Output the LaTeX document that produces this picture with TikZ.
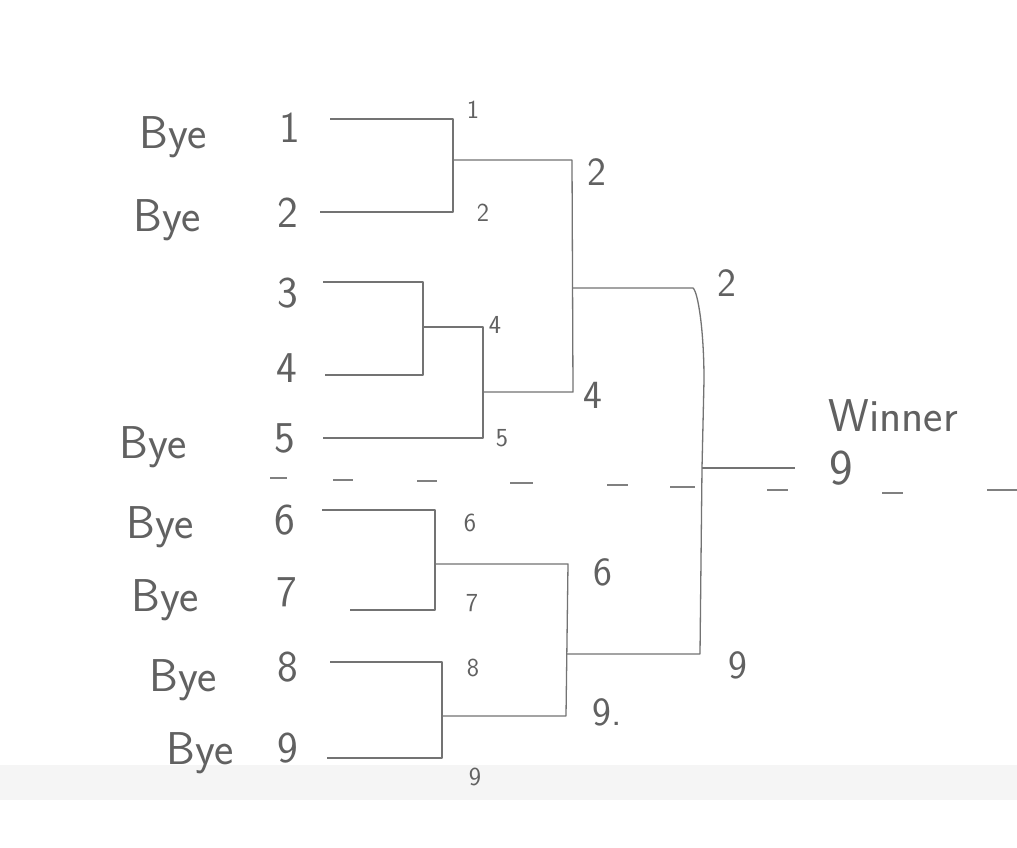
\documentclass[tikz,border=0pt]{standalone}
\usepackage{fontspec}
\begin{document}
\begin{tikzpicture}[x=1pt,y=-1pt,
  br/.style={draw=black!55, line width=1.3pt, line join=round},
  txt/.style={text=black!62, inner sep=0pt, font=\sffamily},
  big/.style={txt, font=\sffamily\fontsize{44}{48}\selectfont},
  bye/.style={txt, font=\sffamily\fontsize{46}{50}\selectfont},
  mid/.style={txt, font=\sffamily\fontsize{40}{44}\selectfont},
  sml/.style={txt, font=\sffamily\fontsize{26}{30}\selectfont},
  dsh/.style={draw=black!50, line width=1.3pt}]
\fill[white!96!blue!2] (0,0) rectangle (1017,848);
\useasboundingbox (0,0) rectangle (1017,848);
\fill[black!4] (0,765) rectangle (1017,800);
% labels
\node[bye] (b1) at (173,137) {Bye};
\node[bye] (b2) at (167,220) {Bye};
\node[bye] (b5) at (153,447) {Bye};
\node[bye] (b6) at (160,527) {Bye};
\node[bye] (b7) at (165,600) {Bye};
\node[bye] (b8) at (183,680) {Bye};
\node[bye] (b9) at (200,753) {Bye};
\node[big] (p1) at (290,128) {1};
\node[big] (p2) at (288,213) {2};
\node[big] (p3) at (288,293) {3};
\node[big] (p4) at (287,368) {4};
\node[big] (p5) at (285,438) {5};
\node[big] (p6) at (285,520) {6};
\node[big] (p7) at (287,592) {7};
\node[big] (p8) at (288,667) {8};
\node[big] (p9) at (288,748) {9};
\node[sml] (s1) at (473,110) {1};
\node[sml] (s2) at (483,213) {2};
\node[sml] (s4) at (495,325) {4};
\node[sml] (s5) at (502,438) {5};
\node[sml] (s6) at (470,523) {6};
\node[sml] (s7) at (472,603) {7};
\node[sml] (s8) at (473,668) {8};
\node[sml] (s9) at (475,777) {9};
\node[mid] (m2) at (597,172) {2};
\node[mid] (m4) at (593,395) {4};
\node[mid] (m6) at (603,572) {6};
\node[mid] (m9) at (607,712) {9.};
\node[mid] (f2) at (727,283) {2};
\node[mid] (f9) at (738,665) {9};
\node[txt, font=\sffamily\fontsize{46}{50}\selectfont] (win) at (893,416) {Winner};
\node[txt, font=\sffamily\fontsize{50}{54}\selectfont] (w9) at (841,468) {9};
% coordinates
\coordinate (a1) at (330,119); \coordinate (a1e) at (453,119);
\coordinate (a2) at (320,212); \coordinate (a2e) at (453,212);
\coordinate (j12) at (453,160); \coordinate (j12e) at (572,160);
\coordinate (a3) at (323,282); \coordinate (a3e) at (423,282);
\coordinate (a4) at (325,375); \coordinate (a4e) at (423,375);
\coordinate (j34) at (423,327); \coordinate (j34e) at (483,327);
\coordinate (a5) at (323,438); \coordinate (a5e) at (483,438);
\coordinate (j345) at (483,392); \coordinate (j345e) at (573,392);
\coordinate (jt) at (572,288); \coordinate (jte) at (693,288);
\coordinate (a6) at (322,510); \coordinate (a6e) at (435,510);
\coordinate (a7) at (350,610); \coordinate (a7e) at (435,610);
\coordinate (j67) at (435,564); \coordinate (j67e) at (568,564);
\coordinate (a8) at (330,662); \coordinate (a8e) at (442,662);
\coordinate (a9) at (327,758); \coordinate (a9e) at (442,758);
\coordinate (j89) at (442,716); \coordinate (j89e) at (566,716);
\coordinate (jb) at (566,654); \coordinate (jbe) at (700,654);
\coordinate (fm) at (702,468); \coordinate (fe) at (795,468);
% bracket lines
\draw[br] (a1) -- (a1e) -- (a2e) -- (a2);
\draw[br] (j12) -- (j12e) -- (j345e) -- (j345);
\draw[br] (a3) -- (a3e) -- (a4e) -- (a4);
\draw[br] (j34) -- (j34e) -- (a5e) -- (a5);
\draw[br] (jt) -- (jte) .. controls (698,292) and (704,330) .. (704,380) -- (fm) -- (jbe) -- (jb);
\draw[br] (fm) -- (fe);
\draw[br] (a6) -- (a6e) -- (a7e) -- (a7);
\draw[br] (j67) -- (j67e) -- (j89e) -- (j89);
\draw[br] (a8) -- (a8e) -- (a9e) -- (a9);
% dashed dividing line (hand-drawn dashes)
\foreach \xa/\xb/\yy in {270/287/478, 333/353/480, 417/437/481, 510/533/483,
  607/628/485, 670/695/487, 767/788/490, 882/903/493, 987/1017/490}
  \draw[dsh] (\xa,\yy) -- (\xb,\yy);
\end{tikzpicture}
\end{document}
